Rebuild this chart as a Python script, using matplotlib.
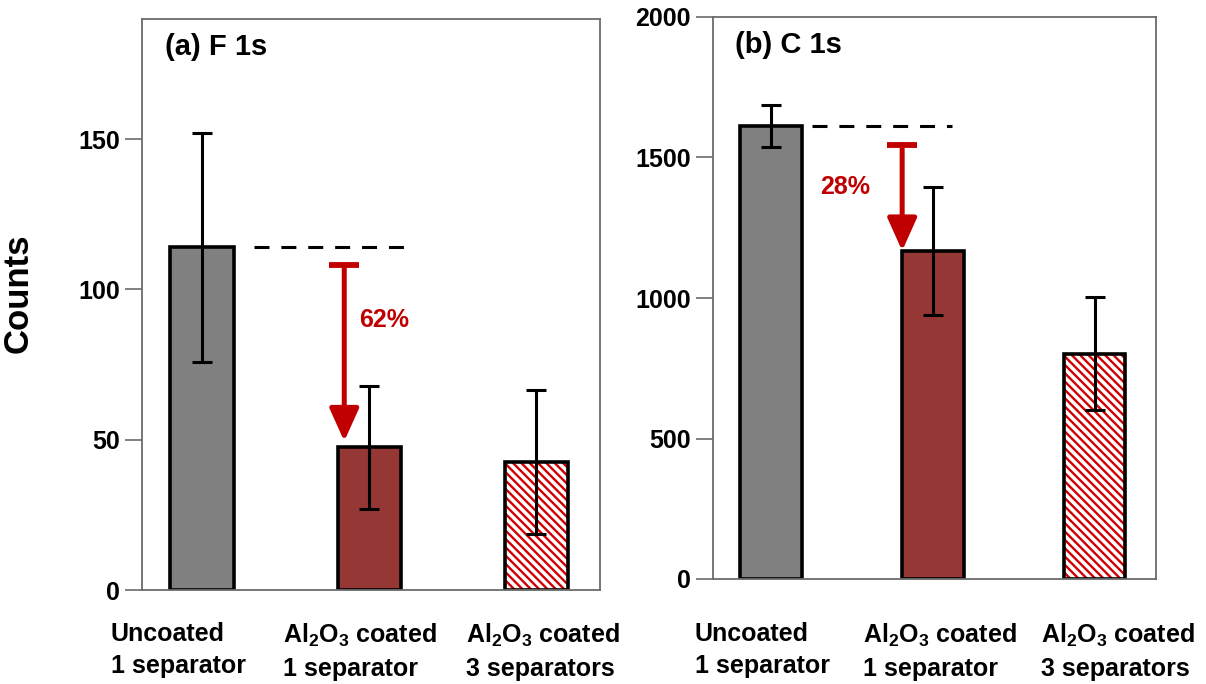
#!/usr/bin/env python3
"""XPS peak counts for uncoated vs Al2O3 coated separators (F 1s and C 1s)."""

import matplotlib
matplotlib.use("Agg")
import matplotlib.pyplot as plt

plt.rcParams["font.family"] = ["Liberation Sans", "DejaVu Sans"]
plt.rcParams["font.weight"] = "bold"
plt.rcParams["mathtext.fontset"] = "custom"
plt.rcParams["mathtext.rm"] = "Liberation Sans:bold"
plt.rcParams["mathtext.it"] = "Liberation Sans:bold"
plt.rcParams["mathtext.bf"] = "Liberation Sans:bold"
plt.rcParams["hatch.linewidth"] = 1.7

# ---- data ----
sample_labels = [
    "Uncoated\n1 separator",
    "Al$_2$O$_3$ coated\n1 separator",
    "Al$_2$O$_3$ coated\n3 separators",
]
f1s_counts = [114, 47.5, 42.5]
f1s_err = [38, 20.5, 24]
c1s_counts = [1612, 1168, 802]
c1s_err = [75, 227, 200]

f1s_ticks = [0, 50, 100, 150]
c1s_ticks = [0, 500, 1000, 1500, 2000]

# reduction arrows: (start value, end value, label)
f1s_arrow = (108, 49.5, "62%")
c1s_arrow = (1546, 1168, "28%")

GREY = "#808080"
DARK_RED = "#953735"
RED = "#C00000"
HATCH_RED = "#D00000"
SPINE = "#6b6b6b"


def draw_panel(ax, counts, err, ticks, ylim, title, arrow, dash_span, arrow_x, pct_pos):
    x = list(range(len(counts)))
    width = 0.38
    # solid bars
    ax.bar(x[:2], counts[:2], width=width, color=[GREY, DARK_RED],
           edgecolor="black", linewidth=2.6, zorder=2)
    # hatched bar: hatch layer then black outline
    ax.bar(x[2], counts[2], width=width, color="white", edgecolor=HATCH_RED,
           hatch="\\\\\\\\", linewidth=0, zorder=2)
    ax.bar(x[2], counts[2], width=width, fill=False, edgecolor="black",
           linewidth=2.6, zorder=2.5)
    ax.errorbar(x, counts, yerr=err, fmt="none", ecolor="black", elinewidth=2.2,
                capsize=7, capthick=2.2, zorder=3)

    # dashed reference at the uncoated level
    ax.plot(dash_span, [counts[0], counts[0]], color="black", lw=2.2,
            linestyle=(0, (4.9, 3.9)), zorder=3)

    start, end, label = arrow
    ax.annotate("", xy=(arrow_x, end), xytext=(arrow_x, start),
                arrowprops=dict(arrowstyle="-|>,head_width=0.45,head_length=1.0",
                                color=RED, lw=3.6, shrinkA=0, shrinkB=0,
                                mutation_scale=20),
                zorder=4)
    ax.plot([arrow_x], [start], marker="_", markersize=21, markeredgewidth=4.2,
            color=RED, zorder=4)
    ax.text(pct_pos[0], pct_pos[1], label, color=RED, fontsize=18,
            fontweight="bold", ha="center", va="center")

    ax.text(0.05, 0.975, title, transform=ax.transAxes, fontsize=21,
            fontweight="bold", ha="left", va="top")

    ax.set_xlim(-0.36, 2.38)
    ax.set_ylim(*ylim)
    ax.set_yticks(ticks)
    ax.set_xticks([])
    ax.tick_params(axis="y", direction="out", length=12, width=1.2, color=SPINE,
                   labelsize=18, pad=4)
    for lab in ax.get_yticklabels():
        lab.set_fontweight("bold")
    for sp in ax.spines.values():
        sp.set_color(SPINE)
        sp.set_linewidth(1.3)


fig = plt.figure(figsize=(12.06, 6.84), dpi=100)
ax1 = fig.add_axes([142 / 1206, 1 - 590 / 684, (600 - 142) / 1206, (590 - 19) / 684])
ax2 = fig.add_axes([713 / 1206, 1 - 579 / 684, (1156 - 713) / 1206, (579 - 17) / 684])

draw_panel(ax1, f1s_counts, f1s_err, f1s_ticks, (0, 190), "(a) F 1s",
           f1s_arrow, (0.31, 1.21), 0.85, (1.09, 90))
draw_panel(ax2, c1s_counts, c1s_err, c1s_ticks, (0, 2000), "(b) C 1s",
           c1s_arrow, (0.25, 1.12), 0.81, (0.46, 1396))

ax1.set_ylabel("Counts", fontsize=25, fontweight="bold")
ax1.yaxis.set_label_coords(-0.235, 0.52)

# category labels below each panel, left aligned text blocks
left_x = [111, 283, 466]
right_x = [695, 863, 1041]
for xs in (left_x, right_x):
    for px, text in zip(xs, sample_labels):
        fig.text(px / 1206, 1 - 622 / 684, text, fontsize=18, fontweight="bold",
                 ha="left", va="top", linespacing=1.4)

fig.savefig("out.png", dpi=100)
